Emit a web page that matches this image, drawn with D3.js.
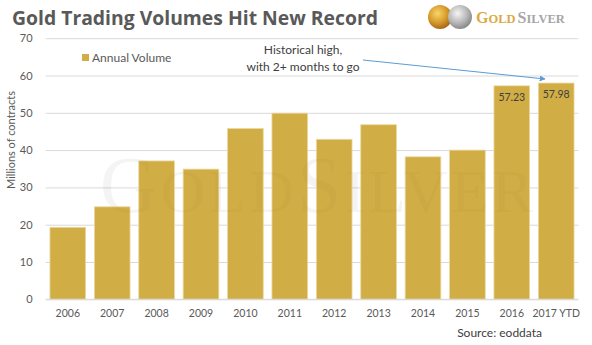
<!DOCTYPE html>
<html>
<head>
<meta charset="utf-8">
<script src="https://cdn.jsdelivr.net/npm/d3@7"></script>
<style>
  html, body { margin: 0; padding: 0; background: #fff; }
  svg { display: block; }
</style>
</head>
<body>
<svg id="chart" width="592" height="345"></svg>
<script>
// Annual gold futures trading volume (millions of contracts)
const years = ["2006", "2007", "2008", "2009", "2010", "2011", "2012", "2013", "2014", "2015", "2016", "2017 YTD"];
const volumes = [19.3, 24.8, 37.1, 34.9, 45.8, 49.9, 42.9, 46.8, 38.2, 40.0, 57.23, 57.98];
const labelledYears = ["2016", "2017 YTD"];
const yTicks = [0, 10, 20, 30, 40, 50, 60, 70];

const svg = d3.select("#chart");
const font = "Lato, 'Open Sans', sans-serif";
const gold = "#D1AD45";
const textGray = "#595959";

const x = d3.scaleBand().domain(years).range([45.6, 578.4]).paddingInner(0.196).paddingOuter(0.098);
const y = d3.scaleLinear().domain([0, 70]).range([299.3, 38.2]);

// gridlines and y tick labels
const yAxis = d3.axisLeft(y).tickValues(yTicks).tickSize(-(578.4 - 45.6)).tickPadding(13);
const gy = svg.append("g").attr("transform", "translate(45.6,0)").call(yAxis);
gy.select(".domain").remove();
gy.selectAll(".tick line").attr("stroke", "#d9d9d9").attr("stroke-width", 1);
gy.selectAll(".tick text").attr("fill", textGray).style("font-family", font).style("font-size", "11px");

// faint brand watermark behind the bars
function watermark(opacity) {
  svg.append("text")
    .attr("x", 318).attr("y", 212)
    .attr("text-anchor", "middle")
    .style("font-family", "'Liberation Serif', serif")
    .style("font-size", "80px")
    .attr("fill", "#000").attr("fill-opacity", opacity)
    .attr("letter-spacing", 3)
    .html('G<tspan style="font-size:62px">OLD</tspan>S<tspan style="font-size:62px">ILVER</tspan>');
}
watermark(0.022);

// bars
svg.append("g").selectAll("rect").data(years).join("rect")
  .attr("x", d => x(d))
  .attr("width", x.bandwidth())
  .attr("y", (d, i) => y(volumes[i]))
  .attr("height", (d, i) => y(0) - y(volumes[i]))
  .attr("fill", gold)
  .attr("stroke", "#ecd9a0").attr("stroke-width", 0.8);

// watermark also shows faintly over the bars
watermark(0.018);

// baseline
svg.append("line").attr("x1", 45.6).attr("x2", 578.4).attr("y1", y(0)).attr("y2", y(0))
  .attr("stroke", "#d9d9d9");

// value labels inside the two latest bars
years.forEach((d, i) => {
  if (!labelledYears.includes(d)) return;
  svg.append("text")
    .attr("x", x(d) + x.bandwidth() / 2)
    .attr("y", y(volumes[i]) + 15)
    .attr("text-anchor", "middle")
    .attr("fill", "#404040")
    .style("font-family", font).style("font-size", "10.5px")
    .text(volumes[i].toFixed(2));
});

// x axis labels
const xAxis = d3.axisBottom(x).tickSize(0).tickPadding(10);
const gx = svg.append("g").attr("transform", `translate(0,${y(0)})`).call(xAxis);
gx.select(".domain").remove();
gx.selectAll(".tick text").attr("fill", textGray).style("font-family", font).style("font-size", "10.5px");

// y axis title
svg.append("text")
  .attr("transform", "translate(15,140) rotate(-90)")
  .attr("text-anchor", "middle")
  .attr("fill", textGray)
  .style("font-family", font).style("font-size", "11px")
  .text("Millions of contracts");

// title
svg.append("text")
  .attr("x", 12).attr("y", 25)
  .attr("fill", "#595959")
  .attr("textLength", 366).attr("lengthAdjust", "spacingAndGlyphs")
  .style("font-family", "'Open Sans', Lato, sans-serif").style("font-size", "19px").style("font-weight", "bold")
  .text("Gold Trading Volumes Hit New Record");

// legend
svg.append("rect").attr("x", 82).attr("y", 54).attr("width", 7).attr("height", 7).attr("fill", gold);
svg.append("text").attr("x", 92).attr("y", 62)
  .attr("fill", textGray)
  .style("font-family", font).style("font-size", "12px")
  .text("Annual Volume");

// annotation
const ann = svg.append("text").attr("text-anchor", "middle").attr("fill", "#404040")
  .style("font-family", font).style("font-size", "12px");
ann.append("tspan").attr("x", 303).attr("y", 54).text("Historical high,");
ann.append("tspan").attr("x", 303).attr("y", 71).text("with 2+ months to go");

const defs = svg.append("defs");
defs.append("marker").attr("id", "arrow").attr("viewBox", "0 0 10 10")
  .attr("refX", 9).attr("refY", 5).attr("markerWidth", 6).attr("markerHeight", 6)
  .attr("orient", "auto")
  .append("path").attr("d", "M0,0 L10,5 L0,10 z").attr("fill", "#5b9bd5");
svg.append("line")
  .attr("x1", 363).attr("y1", 60).attr("x2", 545).attr("y2", 79)
  .attr("stroke", "#5b9bd5").attr("stroke-width", 1)
  .attr("marker-end", "url(#arrow)");

// logo: two coins and wordmark
const gGrad = defs.append("radialGradient").attr("id", "goldCoin").attr("cx", "40%").attr("cy", "35%").attr("r", "65%");
gGrad.append("stop").attr("offset", "0%").attr("stop-color", "#f7d56a");
gGrad.append("stop").attr("offset", "60%").attr("stop-color", "#d79a2b");
gGrad.append("stop").attr("offset", "100%").attr("stop-color", "#a8681a");
const sGrad = defs.append("radialGradient").attr("id", "silverCoin").attr("cx", "40%").attr("cy", "35%").attr("r", "65%");
sGrad.append("stop").attr("offset", "0%").attr("stop-color", "#f4f4f4");
sGrad.append("stop").attr("offset", "60%").attr("stop-color", "#b9b9b9");
sGrad.append("stop").attr("offset", "100%").attr("stop-color", "#8a8a8a");
svg.append("circle").attr("cx", 440).attr("cy", 17).attr("r", 12).attr("fill", "url(#goldCoin)");
svg.append("circle").attr("cx", 460).attr("cy", 17).attr("r", 12).attr("fill", "url(#silverCoin)");

const logo = svg.append("text").attr("x", 476).attr("y", 23)
  .style("font-family", "'Liberation Serif', serif").style("font-weight", "bold")
  .style("font-size", "16px");
logo.append("tspan").attr("fill", "#dcaa45").text("G");
logo.append("tspan").attr("fill", "#dcaa45").style("font-size", "12.5px").text("OLD");
logo.append("tspan").attr("fill", "#a6a6a6").attr("dx", 2).text("S");
logo.append("tspan").attr("fill", "#a6a6a6").style("font-size", "12.5px").text("ILVER");

// source note
svg.append("text").attr("x", 542).attr("y", 337).attr("text-anchor", "end")
  .attr("fill", "#404040")
  .style("font-family", font).style("font-size", "12px")
  .text("Source: eoddata");
</script>
</body>
</html>
